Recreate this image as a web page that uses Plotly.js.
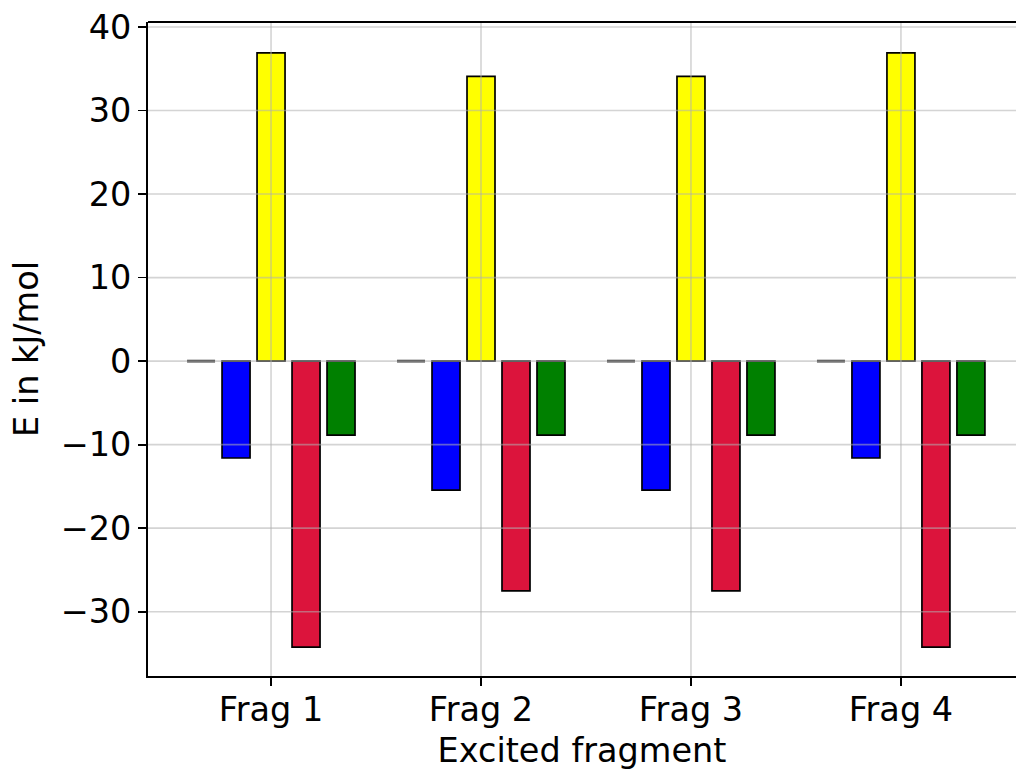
<!DOCTYPE html>
<html>
<head>
<meta charset="utf-8">
<script src="https://cdn.plot.ly/plotly-3.0.1.min.js"></script>
<style>html,body{margin:0;padding:0;background:#fff;}#chart{width:1016px;height:770px;}</style>
</head>
<body>
<div id="chart"></div>
<script>
const categories = ["Frag 1", "Frag 2", "Frag 3", "Frag 4"];
const seriesNames = ["Total", "Term A", "Term B", "Term C", "Term D"];
const zeroTerm = [0, 0, 0, 0];
const blueTerm = [-11.6, -15.45, -15.45, -11.6];
const yellowTerm = [36.9, 34.1, 34.1, 36.9];
const redTerm = [-34.25, -27.5, -27.5, -34.25];
const greenTerm = [-8.85, -8.85, -8.85, -8.85];
const yTicks = [-30, -20, -10, 0, 10, 20, 30, 40];

const seriesValues = [zeroTerm, blueTerm, yellowTerm, redTerm, greenTerm];
const fills = ["#333333", "#0000ff", "#ffff00", "#dc143c", "#008000"];
const edges = ["#333333", "#000000", "#000000", "#000000", "#000000"];
const edgeWidths = [2.6, 1.7, 1.7, 1.7, 1.7];

const traces = seriesValues.map((vals, i) => ({
  type: "bar",
  x: categories,
  y: vals,
  name: seriesNames[i],
  marker: {color: fills[i], line: {color: edges[i], width: edgeWidths[i]}},
  showlegend: false,
  hoverinfo: "x+y"
}));

const font = {family: "DejaVu Sans, sans-serif", size: 33.5, color: "#000"};
const gridCol = "rgba(176,176,176,0.55)";

const gridShapes = [
  ...categories.map(c => ({type: "line", layer: "above", xref: "x", yref: "paper",
    x0: c, x1: c, y0: 0, y1: 1, line: {color: gridCol, width: 1.6}})),
  ...yTicks.map(v => ({type: "line", layer: "above", xref: "paper", yref: "y",
    x0: 0, x1: 1, y0: v, y1: v, line: {color: gridCol, width: 1.6}}))
];

const layout = {
  width: 1016, height: 770,
  margin: {l: 148, r: 0, t: 22, b: 94, pad: 0},
  paper_bgcolor: "#fff", plot_bgcolor: "#fff",
  barmode: "group", bargap: 0.1667, bargroupgap: 0.2,
  font: font,
  xaxis: {
    type: "category",
    range: [-0.586, 3.548],
    showgrid: false,
    showline: true, linecolor: "#000", linewidth: 2,
    ticks: "outside", ticklen: 8, tickwidth: 1.8, tickcolor: "#000",
    tickfont: font, zeroline: false, ticklabelstandoff: -5,
    title: {text: "Excited fragment", font: font, standoff: 10}
  },
  yaxis: {
    range: [-37.7, 40.6],
    tickvals: yTicks,
    ticktext: yTicks.map(v => v < 0 ? "\u2212" + Math.abs(v) : String(v)),
    showgrid: false,
    showline: true, linecolor: "#000", linewidth: 2,
    ticks: "outside", ticklen: 8, tickwidth: 1.8, tickcolor: "#000",
    tickfont: font, zeroline: false,
    title: {text: "E in kJ/mol", font: font, standoff: 12}
  },
  shapes: [...gridShapes, {
    type: "line", xref: "paper", yref: "paper", x0: 0, x1: 1, y0: 1, y1: 1,
    line: {color: "#000", width: 2}
  }]
};

Plotly.newPlot("chart", traces, layout, {displayModeBar: false, staticPlot: true});
</script>
</body>
</html>
